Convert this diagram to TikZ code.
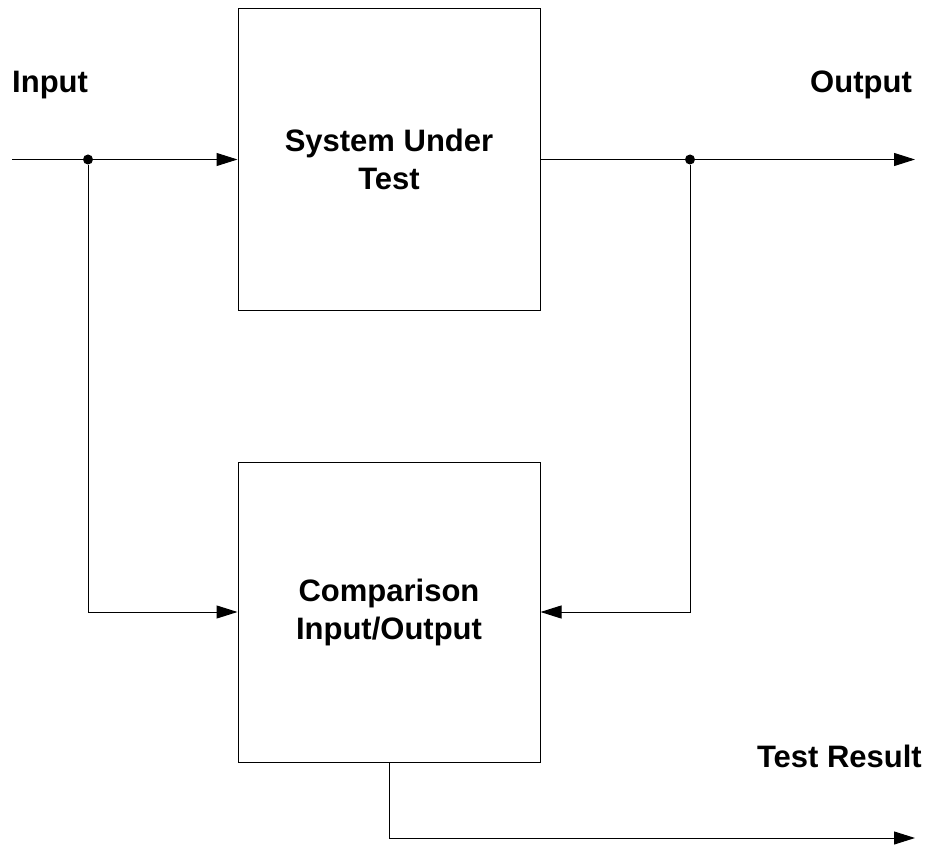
\documentclass[tikz,border=0pt]{standalone}
\usepackage{fontspec}
\setmainfont{Liberation Sans}
\usetikzlibrary{
  arrows.meta,
  calc,
  positioning
}
\tikzset{
  >={Triangle[length=21pt,width=13pt]},
  line/.style={draw=black, line width=1pt, ->},
  conn/.style={draw=black, line width=1pt},
  block/.style={
    draw=black,
    line width=1pt,
    fill=white,
    rectangle,
    align=center,
    minimum width=302pt,
    minimum height=301pt,
    font=\fontsize{31}{38}\selectfont\bfseries
  },
  sig/.style={font=\fontsize{31}{38}\selectfont\bfseries, inner sep=0pt},
  junction/.style={circle, fill=black, inner sep=0pt, minimum size=10pt}
}

\begin{document}
\begin{tikzpicture}[x=1pt, y=-1pt]
  \useasboundingbox (0,0) rectangle (932,845);

  \node[block] (sut) at (389,159.5) {System Under\\Test};
  \node[block, minimum height=300pt] (cmp) at (389,612) {Comparison\\Input/Output};

  \coordinate (in) at (12,159.5);
  \coordinate (out) at (915,159.5);
  \coordinate (res) at (915,838);
  \node[junction] (jin) at (88,159.5) {};
  \node[junction] (jout) at (690,159.5) {};

  \draw[line] (in) -- (sut.west);
  \draw[line] (sut.east) -- (out);
  \draw[line] (jin) |- (cmp.west);
  \draw[line] (jout) |- (cmp.east);
  \draw[line] (cmp.south) |- (res);

  \node[sig, anchor=base west] (inlabel) at (12,93) {Input};
  \node[sig, anchor=base east] (outlabel) at (912,93) {Output};
  \node[sig, anchor=base east] (reslabel) at (922,767) {Test Result};
\end{tikzpicture}
\end{document}
